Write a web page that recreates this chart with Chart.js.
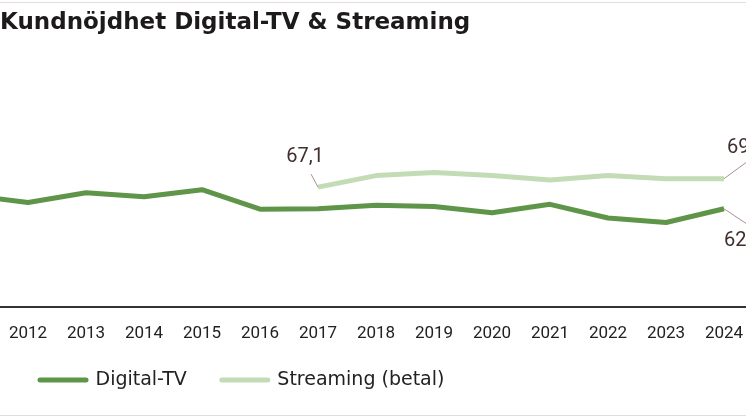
<!DOCTYPE html>
<html>
<head>
<meta charset="utf-8">
<script src="https://cdn.jsdelivr.net/npm/chart.js@4/dist/chart.umd.min.js"></script>
<style>
  html, body { margin: 0; padding: 0; background: #fff; }
  #wrap { width: 746px; height: 419px; }
</style>
</head>
<body>
<div id="wrap"><canvas id="kundChart" width="746" height="419"></canvas></div>
<script>
// Data
const years = [2011, 2012, 2013, 2014, 2015, 2016, 2017, 2018, 2019, 2020, 2021, 2022, 2023, 2024];
const digitalTV = [65.3, 63.6, 65.8, 64.9, 66.5, 62.1, 62.2, 63.0, 62.7, 61.3, 63.2, 60.1, 59.1, 62.2];
const streamingYears = [2017, 2018, 2019, 2020, 2021, 2022, 2023, 2024];
const streaming = [67.1, 69.7, 70.4, 69.7, 68.7, 69.7, 69.0, 69.0];
const tickYears = [2012, 2013, 2014, 2015, 2016, 2017, 2018, 2019, 2020, 2021, 2022, 2023, 2024];

const toPoints = (xs, ys) => xs.map((x, i) => ({x: x, y: ys[i]}));
const fmt = v => v.toFixed(1).replace('.', ',');

// frame lines, white background, legend placement
const framePlugin = {
    id: 'frame',
    beforeDraw(chart) {
        const ctx = chart.ctx;
        ctx.save();
        ctx.fillStyle = '#fff';
        ctx.fillRect(0, 0, chart.width, chart.height);
        ctx.strokeStyle = '#e4dcd8';
        ctx.lineWidth = 1;
        ctx.beginPath();
        ctx.moveTo(0, 2.5); ctx.lineTo(chart.width, 2.5);
        ctx.moveTo(0, 415.5); ctx.lineTo(chart.width, 415.5);
        ctx.stroke();
        ctx.restore();
    },
    afterLayout(chart) {
        const lg = chart.legend;
        lg.left += 5;
        lg.top = 335.5;
        lg.bottom = lg.top + 64;
    }
};

// value labels with leader lines
const labelPlugin = {
    id: 'valueLabels',
    afterDatasetsDraw(chart, args, opts) {
        const ctx = chart.ctx;
        ctx.save();
        opts.items.forEach(it => {
            const pt = chart.getDatasetMeta(it.ds).data[it.idx];
            const val = chart.data.datasets[it.ds].data[it.idx].y;
            ctx.strokeStyle = '#a8918e';
            ctx.lineWidth = 1;
            ctx.beginPath();
            ctx.moveTo(pt.x, pt.y);
            ctx.lineTo(pt.x + it.lx, pt.y + it.ly);
            ctx.stroke();
            ctx.fillStyle = '#3f2f2d';
            ctx.font = '20px Roboto';
            ctx.textAlign = it.align;
            ctx.textBaseline = 'middle';
            ctx.fillText(fmt(val), pt.x + it.tx, pt.y + it.ty);
        });
        ctx.restore();
    }
};

new Chart("kundChart", {
    type: "line",
    data: {
        datasets: [{
            label: 'Digital-TV',
            data: toPoints(years, digitalTV),
            borderColor: "#5f9548",
            backgroundColor: "#5f9548",
            borderWidth: 5,
            borderJoinStyle: 'round',
            pointRadius: 0,
            tension: 0
        }, {
            label: 'Streaming (betal)',
            data: toPoints(streamingYears, streaming),
            borderColor: "#c4dcb6",
            backgroundColor: "#c4dcb6",
            borderWidth: 5,
            borderJoinStyle: 'round',
            pointRadius: 0,
            tension: 0
        }]
    },
    options: {
        responsive: false,
        animation: false,
        layout: {
            autoPadding: false,
            padding: {top: 0, left: 0, right: 0, bottom: 8}
        },
        scales: {
            x: {
                type: 'linear',
                min: 2011.517,
                max: 2024.379,
                grid: {display: false, drawTicks: false},
                border: {display: true, color: '#333', width: 2},
                afterBuildTicks: scale => {
                    scale.ticks = tickYears.map(v => ({value: v}));
                },
                ticks: {
                    autoSkip: false,
                    maxRotation: 0,
                    padding: 0,
                    color: '#222',
                    font: {family: 'Roboto', size: 17, lineHeight: '54px'},
                    callback: v => String(v)
                }
            },
            y: {
                display: false,
                min: 40,
                max: 80
            }
        },
        plugins: {
            title: {
                display: true,
                text: 'Kundnöjdhet Digital-TV & Streaming',
                align: 'start',
                color: '#1c1a1a',
                font: {family: 'DejaVu Sans', size: 23, weight: 'bold'},
                padding: {top: 8.9, bottom: 93.5}
            },
            legend: {
                position: 'bottom',
                align: 'start',
                maxHeight: 50,
                labels: {
                    usePointStyle: true,
                    pointStyle: 'line',
                    pointStyleWidth: 46,
                    padding: 35,
                    color: '#222',
                    font: {family: 'DejaVu Sans', size: 19},
                    generateLabels: chart => {
                        const items = Chart.defaults.plugins.legend.labels.generateLabels(chart);
                        items.forEach(it => {
                            const ds = chart.data.datasets[it.datasetIndex];
                            it.lineWidth = 5;
                            it.lineCap = 'round';
                            it.pointStyle = 'line';
                            it.strokeStyle = ds.borderColor;
                        });
                        return items;
                    }
                }
            },
            tooltip: {enabled: false},
            valueLabels: {
                items: [
                    {ds: 1, idx: 0, tx: -13, ty: -30, lx: -7, ly: -13, align: 'center'},
                    {ds: 1, idx: 7, tx: 3, ty: -31, lx: 30, ly: -22, align: 'left'},
                    {ds: 0, idx: 13, tx: 0, ty: 32, lx: 30, ly: 20, align: 'left'}
                ]
            }
        }
    },
    plugins: [framePlugin, labelPlugin]
});
</script>
</body>
</html>
